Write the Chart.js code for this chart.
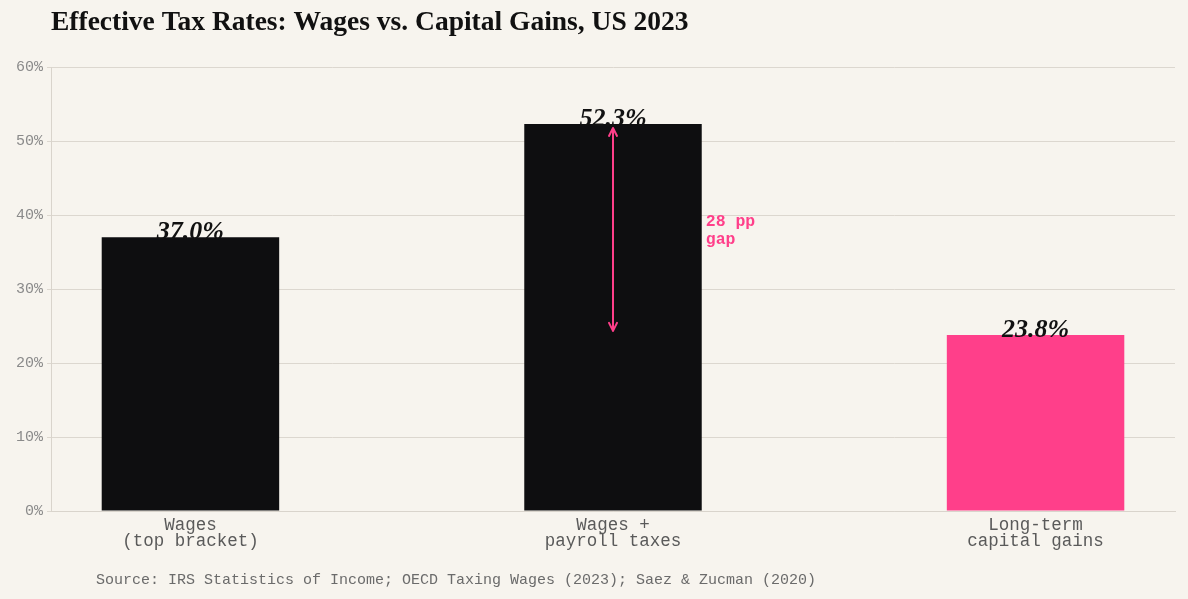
<!DOCTYPE html>
<html>
<head>
<meta charset="utf-8">
<script src="https://cdn.jsdelivr.net/npm/chart.js@4.4.0/dist/chart.umd.min.js"></script>
<style>
html,body{margin:0;padding:0;background:#f7f4ee;}
#wrap{width:1188px;height:599px;position:relative;}
</style>
</head>
<body>
<div id="wrap"><canvas id="c" width="1188" height="599"></canvas></div>
<script>
const categories = [["Wages","(top bracket)"],["Wages +","payroll taxes"],["Long-term","capital gains"]];
const rates = [37.0, 52.3, 23.8];
const barColors = ["#0e0e10", "#0e0e10", "#ff3f8a"];
const yTicks = [0,10,20,30,40,50,60];
const titleText = "Effective Tax Rates: Wages vs. Capital Gains, US 2023";
const sourceText = "Source: IRS Statistics of Income; OECD Taxing Wages (2023); Saez & Zucman (2020)";
const gapLabel = ["28 pp","gap"];
const gapFrom = 1, gapTo = 2; // indices compared

const PINK = "#ff3f8a";

const decor = {
  id: 'decor',
  beforeDraw(chart){
    const ctx = chart.ctx;
    ctx.save();
    ctx.fillStyle = '#f7f4ee';
    ctx.fillRect(0,0,chart.width,chart.height);
    ctx.restore();
  },
  afterDatasetsDraw(chart){
    const ctx = chart.ctx;
    const meta = chart.getDatasetMeta(0);
    const y = chart.scales.y;
    ctx.save();
    // value labels
    ctx.font = 'italic bold 26px "Liberation Serif", serif';
    ctx.fillStyle = '#111';
    ctx.textAlign = 'center';
    ctx.textBaseline = 'alphabetic';
    meta.data.forEach((bar,i)=>{
      ctx.fillText(rates[i].toFixed(1)+'%', bar.x, bar.y + 2);
    });
    // gap arrow
    const bar = meta.data[gapFrom];
    const yTop = y.getPixelForValue(rates[gapFrom]) + 4;
    const yBot = y.getPixelForValue(rates[gapTo]) - 4;
    const x = bar.x;
    ctx.strokeStyle = PINK;
    ctx.lineWidth = 2;
    ctx.lineCap = 'round';
    ctx.lineJoin = 'round';
    ctx.beginPath();
    ctx.moveTo(x, yTop); ctx.lineTo(x, yBot);
    ctx.moveTo(x-4, yTop+8); ctx.lineTo(x, yTop); ctx.lineTo(x+4, yTop+8);
    ctx.moveTo(x-4, yBot-8); ctx.lineTo(x, yBot); ctx.lineTo(x+4, yBot-8);
    ctx.stroke();
    // gap label
    const mid = y.getPixelForValue((rates[gapFrom]+rates[gapTo])/2);
    ctx.fillStyle = PINK;
    ctx.font = 'bold 16.5px "Liberation Mono", monospace';
    ctx.textAlign = 'left';
    ctx.textBaseline = 'middle';
    const tx = bar.x + bar.width/2 + 4;
    ctx.fillText(gapLabel[0], tx, mid - 8);
    ctx.fillText(gapLabel[1], tx, mid + 10);
    ctx.restore();
  },
  afterDraw(chart){
    const ctx = chart.ctx;
    ctx.save();
    ctx.fillStyle = '#111';
    ctx.font = 'bold 27.5px "Liberation Serif", serif';
    ctx.textAlign = 'left';
    ctx.textBaseline = 'middle';
    ctx.fillText(titleText, 51, 23);
    ctx.fillStyle = '#6b6b6b';
    ctx.font = '15px "Liberation Mono", monospace';
    ctx.fillText(sourceText, 96, 580);
    ctx.restore();
  }
};

new Chart(document.getElementById('c'), {
  type: 'bar',
  data: {
    datasets: [{
      data: rates.map((v,i)=>({x:i, y:v})),
      backgroundColor: barColors,
      borderWidth: 0,
      barPercentage: 1,
      categoryPercentage: 0.42
    }]
  },
  options: {
    responsive: false,
    animation: false,
    devicePixelRatio: 1,
    layout: { padding: { top: 67, right: 13, bottom: 0, left: 0 } },
    plugins: { legend: { display: false }, tooltip: { enabled: false }, title: { display: false } },
    scales: {
      x: {
        type: 'linear',
        offset: false,
        min: -0.33,
        max: 2.33,
        afterBuildTicks(scale){ scale.ticks = categories.map((c,i)=>({value:i})); },
        afterFit(scale){ scale.height = 88; },
        grid: { display: false, drawTicks: false, offset: false },
        border: { display: true, color: '#d9d4cc', width: 1 },
        ticks: {
          padding: 6,
          color: '#5a5a5a',
          font: { family: '"Liberation Mono", monospace', size: 17.5, lineHeight: 0.93 },
          maxRotation: 0,
          autoSkip: false,
          callback: (v)=> categories[v]
        }
      },
      y: {
        min: 0,
        max: 60,
        afterBuildTicks(scale){ scale.ticks = yTicks.map(v=>({value:v})); },
        afterFit(scale){ scale.width = 51; },
        grid: { color: '#dcd7cf', lineWidth: 1, drawTicks: true, tickLength: 4, tickColor: '#dcd7cf' },
        border: { display: true, color: '#d9d4cc', width: 1 },
        ticks: {
          padding: 4,
          color: '#8a8a8a',
          font: { family: '"Liberation Mono", monospace', size: 15 },
          callback: (v)=> v + '%'
        }
      }
    }
  },
  plugins: [decor]
});
</script>
</body>
</html>
